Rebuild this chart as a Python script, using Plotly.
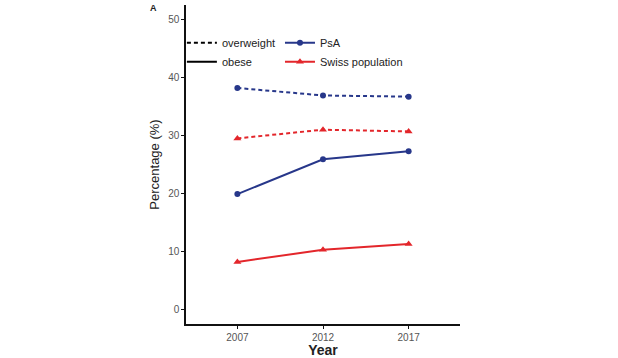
import plotly.graph_objects as go

years = [2007, 2012, 2017]
psa_overweight = [38.2, 36.9, 36.7]
psa_obese = [19.9, 25.9, 27.3]
swiss_overweight = [29.5, 31.0, 30.7]
swiss_obese = [8.2, 10.3, 11.3]

navy = "#27378a"
red = "#e3262b"
dash = "4px,3px"

fig = go.Figure()

def add(y, color, symbol, d, size):
    fig.add_trace(go.Scatter(
        x=years, y=y, mode="lines+markers",
        line=dict(color=color, width=2, dash=d),
        marker=dict(color=color, symbol=symbol, size=size),
        showlegend=False, hoverinfo="skip"))

add(psa_overweight, navy, "circle", dash, 6)
add(psa_obese, navy, "circle", "solid", 6)
add(swiss_overweight, red, "triangle-up", dash, 7)
add(swiss_obese, red, "triangle-up", "solid", 7)

# legend entries
fig.add_trace(go.Scatter(x=[None], y=[None], mode="lines", name="overweight",
                         line=dict(color="black", width=2, dash=dash), legend="legend"))
fig.add_trace(go.Scatter(x=[None], y=[None], mode="lines", name="obese",
                         line=dict(color="black", width=2), legend="legend"))
fig.add_trace(go.Scatter(x=[None], y=[None], mode="lines+markers", name="PsA",
                         line=dict(color=navy, width=2), marker=dict(color=navy, size=6),
                         legend="legend2"))
fig.add_trace(go.Scatter(x=[None], y=[None], mode="lines+markers", name="Swiss population",
                         line=dict(color=red, width=2),
                         marker=dict(color=red, size=7, symbol="triangle-up"),
                         legend="legend2"))

font = "Liberation Sans, Arial, sans-serif"
fig.update_layout(
    width=618, height=358,
    margin=dict(l=186, r=158, t=5, b=34),
    plot_bgcolor="white", paper_bgcolor="white",
    font=dict(family=font, color="#222"),
    legend=dict(x=-0.015, y=0.927, xanchor="left", yanchor="top", font=dict(size=11, color="#222"),
                bgcolor="rgba(0,0,0,0)", itemwidth=30, tracegroupgap=0),
    legend2=dict(x=0.343, y=0.927, xanchor="left", yanchor="top", font=dict(size=11, color="#222"),
                 bgcolor="rgba(0,0,0,0)", itemwidth=30, tracegroupgap=0),
    xaxis=dict(range=[2004, 2020], tickvals=years, ticktext=[str(y) for y in years],
               showline=True, linecolor="#111", linewidth=1.5, showgrid=False, zeroline=False,
               ticks="outside", ticklen=3, tickcolor="#111",
               tickfont=dict(size=10, color="#555"),
               title=dict(text="<b>Year</b>", font=dict(size=14, color="#222"), standoff=1)),
    yaxis=dict(range=[-2.5, 52.5], tickvals=[0, 10, 20, 30, 40, 50],
               showline=True, linecolor="#111", linewidth=1.5, showgrid=False, zeroline=False,
               ticks="outside", ticklen=3, tickcolor="#111",
               tickfont=dict(size=10, color="#555"),
               title=dict(text="Percentage (%)", font=dict(size=13, color="#222"), standoff=6)),
    annotations=[dict(text="<b>A</b>", x=-0.12, y=0.99, xref="paper", yref="paper",
                      xanchor="center", yanchor="middle",
                      showarrow=False, font=dict(size=9, color="#222"))],
)

fig.write_html("out.html", post_script="document.body.style.margin='0';",
               config={"displayModeBar": False})
